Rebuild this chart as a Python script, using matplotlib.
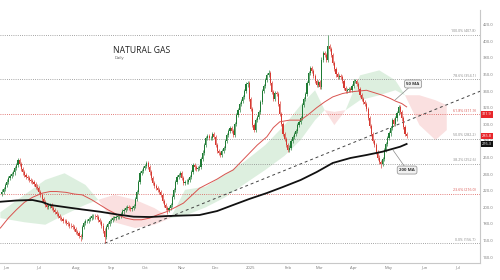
import numpy as np
import matplotlib
matplotlib.use('Agg')
import matplotlib.pyplot as plt

plt.rcParams['font.family'] = ['Open Sans', 'DejaVu Sans']

# daily closes, one per trading day, first value is index -3 (late May)
first_idx = -3
first_open = 216
closes = [
    219, 222, 227, 231, 235, 238, 240, 242, 247, 251, 257, 252, 246, 242, 239, 237,
    235, 233, 232, 230, 228, 225, 223, 218, 215, 210, 206, 203, 200, 202, 203, 199,
    197, 194, 192, 190, 187, 186, 184, 183, 181, 180, 178, 177, 176, 174, 170, 169,
    165, 164, 176, 181, 183, 184, 186, 187, 189, 190, 189, 188, 185, 182, 178, 172,
    164, 176, 180, 183, 185, 187, 187, 188, 189, 190, 192, 195, 197, 199, 200, 199,
    198, 199, 202, 210, 218, 230, 241, 244, 247, 250, 253, 249, 242, 235, 229, 226,
    223, 221, 218, 215, 208, 203, 199, 197, 199, 203, 212, 221, 230, 236, 239, 241,
    235, 229, 230, 231, 233, 236, 243, 251, 248, 246, 247, 249, 258, 266, 275, 283,
    286, 283, 283, 288, 285, 275, 268, 265, 263, 268, 271, 280, 287, 292, 296, 292,
    287, 300, 311, 317, 324, 328, 333, 340, 348, 350, 330, 318, 299, 293, 305, 309,
    315, 327, 340, 346, 353, 359, 362, 350, 339, 330, 338, 336, 325, 312, 300, 288,
    282, 275, 269, 272, 280, 285, 288, 292, 299, 303, 308, 323, 330, 337, 350, 362,
    368, 364, 358, 352, 347, 351, 345, 378, 386, 383, 377, 394, 391, 383, 374, 367,
    360, 357, 358, 357, 352, 344, 340, 341, 343, 341, 346, 352, 352, 349, 343, 335,
    330, 327, 324, 318, 308, 298, 288, 280, 275, 267, 260, 255, 252, 258, 269, 276,
    283, 289, 296, 305, 300, 307, 314, 321, 315, 307, 297, 288, 285.8,
]
# notable wick extremes (index: value)
high_marks = {200: 407.8, 163: 366, 88: 256}
low_marks = {61: 156.7, 46: 160, 233: 247, 100: 192}

# moving averages (index, value)
ma50_idx = [-4, 1, 6, 11, 16, 22, 27, 31, 37, 42, 47, 53, 58, 63, 69, 74, 79, 84, 89, 94,
            100, 105, 110, 115, 120, 125, 131, 136, 141, 146, 151, 156, 162, 166, 170, 176, 183, 188, 193, 198,
            203, 209, 214, 219, 224, 229, 234, 239, 242, 246, 249]
ma50_val = [175, 187, 197, 206, 212, 217, 219, 219, 218, 216, 215, 209, 203, 197, 191, 187, 185, 185, 187, 191,
            195, 200, 205, 214, 223, 228, 234, 240, 245, 255, 265, 275, 285, 296, 303, 305, 305, 312, 320, 327,
            333, 337, 339, 340, 341, 338, 335, 331, 328, 325, 321]
ma200_idx = [-4, 6, 16, 22, 27, 38, 47, 58, 69, 79, 89, 100, 110, 120, 131, 141, 151, 162, 172, 183,
             193, 203, 214, 224, 234, 245, 249]
ma200_val = [206.7, 208.2, 208.8, 206.4, 202.8, 199.8, 197.4, 194.7, 191.3, 188.7, 188.3, 189.5, 190.1, 190.7,
             195.5, 202.8, 210, 217.2, 224.5, 232.9, 242.5, 253.4, 259.4, 263, 267, 273, 276.3]

# cloud spans (index, span A, span B)
cloud_idx = [-4, 11, 24, 36, 49, 57, 67, 80, 92, 102, 111, 124, 136, 148, 161, 173, 183, 192, 198, 204, 211, 220, 232, 242, 248, 257, 267, 274]
span_a = [194, 215, 233, 241, 227, 209, 182, 175, 179, 187, 221, 225, 240, 255, 275, 299, 323, 341, 317, 299, 317, 359, 365, 353, 335, 299, 281, 293]
span_b = [187, 182, 179, 191, 203, 209, 215, 209, 199, 187, 190, 200, 212, 228, 245, 262, 281, 305, 317, 315, 317, 329, 335, 341, 335, 335, 329, 323]

# trendline anchors
trend_idx = [61, 295]
trend_val = [156.7, 340]

fib_low, fib_high = 156.7, 407.8
fib_pcts = [0, 23.6, 38.2, 50.0, 61.8, 78.6, 100.0]

month_idx = [0, 20, 43, 65, 86, 109, 130, 152, 175, 195, 216, 238, 260, 281]
month_lbl = ['Jun', 'Jul', 'Aug', 'Sep', 'Oct', 'Nov', 'Dec', '2025', 'Feb', 'Mar', 'Apr', 'May', 'Jun', 'Jul']
ytick_vals = list(range(140, 421, 20))

GREEN = '#1e7b34'
RED = '#d63a32'
GRAY = '#777777'

fig = plt.figure(figsize=(5, 2.8), dpi=100)
ax = fig.add_axes([0, 17 / 280, 0.96, 253 / 280])

# cloud
ci = np.array(cloud_idx)
sa = np.array(span_a, dtype=float)
sb = np.array(span_b, dtype=float)
ax.fill_between(ci, sa, sb, where=sa >= sb, interpolate=True, color='#cfe9d2', alpha=0.7, lw=0, zorder=1)
ax.fill_between(ci, sa, sb, where=sa < sb, interpolate=True, color='#f8d3d3', alpha=0.7, lw=0, zorder=1)

# fibonacci levels
for p in fib_pcts:
    lvl = fib_low + (fib_high - fib_low) * p / 100
    col = '#d9534f' if p in (23.6, 61.8) else '#888888'
    ax.axhline(lvl, color=col, lw=0.6, ls=(0, (1, 1.6)), zorder=2)
    ax.annotate('%.1f%% (%.1f)' % (p, lvl), xy=(292, lvl), xytext=(0, 1.2), textcoords='offset points',
                ha='right', va='bottom', fontsize=2.6, color=col, zorder=6)

# trendline
ax.plot(trend_idx, trend_val, color='#444444', lw=0.7, ls=(0, (3, 3)), zorder=3)

# candles
idx = np.arange(first_idx, first_idx + len(closes))
c = np.array(closes, dtype=float)
o = np.concatenate([[first_open], c[:-1]])
hi = np.maximum(o, c) + 2.5
lo = np.minimum(o, c) - 2.5
for k, v in high_marks.items():
    hi[k - first_idx] = v
for k, v in low_marks.items():
    lo[k - first_idx] = v
up = c >= o
cols = np.where(up, GREEN, RED)
ax.vlines(idx, lo, hi, colors=cols, lw=0.45, zorder=4)
ax.bar(idx, np.maximum(np.abs(c - o), 0.8), bottom=np.minimum(o, c), width=0.7, color=cols, lw=0, zorder=5)

# moving averages
ax.plot(ma50_idx, ma50_val, color='#d9534f', lw=0.7, zorder=6)
ax.plot(ma200_idx, ma200_val, color='#111111', lw=1.3, zorder=6)

box = dict(boxstyle='round,pad=0.45', fc='#f1f1f1', ec='#8a8a8a', lw=0.5)
ax.annotate('50 MA', xy=(241.8, 329.3), xytext=(253, 348.6), ha='center', va='center', fontsize=3.2,
            fontweight='bold', color='#333333', bbox=box,
            arrowprops=dict(arrowstyle='-', color='#8a8a8a', lw=0.5, shrinkA=0, shrinkB=0), zorder=8)
ax.annotate('200 MA', xy=(240.5, 269), xytext=(249.3, 244.9), ha='center', va='center', fontsize=3.2,
            fontweight='bold', color='#333333', bbox=box,
            arrowprops=dict(arrowstyle='-', color='#8a8a8a', lw=0.5, shrinkA=0, shrinkB=0), zorder=8)

# titles
ax.text(66, 389.5, 'NATURAL GAS', fontsize=6.2, color='#222222', ha='left', va='center')
ax.text(67, 380, 'Daily', fontsize=3, color='#555555', ha='left', va='center')

# price boxes on the right axis
for val, fc in [(311.9, '#e8262b'), (closes[-1], '#e8262b'), (ma200_val[-1], '#111111')]:
    ax.annotate('%.1f' % val, xy=(1.0, val), xycoords=('axes fraction', 'data'), xytext=(1.5, 0),
                textcoords='offset points', ha='left', va='center', fontsize=2.8, color='white',
                bbox=dict(boxstyle='square,pad=0.3', fc=fc, ec='none'), zorder=9, annotation_clip=False)

ax.set_xlim(-4.2, 294.7)
ax.set_ylim(132.9, 437.7)
ax.yaxis.tick_right()
ax.set_yticks(ytick_vals)
ax.set_yticklabels(['%.1f' % v for v in ytick_vals])
ax.set_xticks(month_idx)
ax.set_xticklabels(month_lbl)
ax.tick_params(axis='both', length=0, labelsize=3.0, labelcolor=GRAY, pad=2)
for s in ['top', 'left']:
    ax.spines[s].set_visible(False)
for s in ['right', 'bottom']:
    ax.spines[s].set_color('#c8c8c8')
    ax.spines[s].set_linewidth(0.8)

fig.savefig('out.png', dpi=100, facecolor='white')
